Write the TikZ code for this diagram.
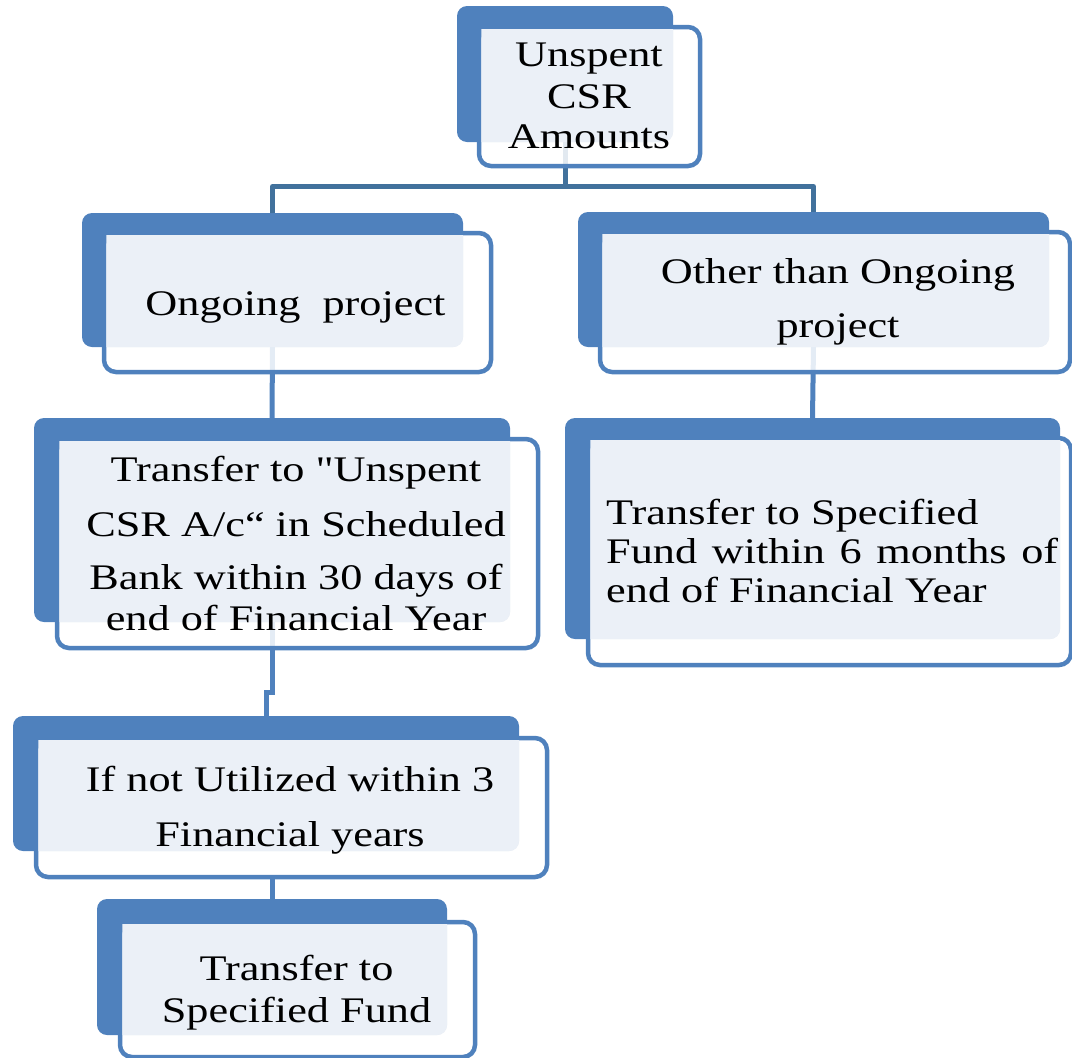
\documentclass[tikz,border=0pt]{standalone}
\usepackage{fontspec}
\setmainfont[FakeStretch=1.23, Ligatures=TeXOff]{Liberation Serif}
\usetikzlibrary{calc}
\definecolor{bblue}{HTML}{4F81BD}
\definecolor{cblue}{HTML}{41719C}
\definecolor{lfill}{HTML}{EBF0F7}
\newcommand\lightpart[2]{%
  \begin{scope}
    \clip ([xshift=2.25pt,yshift=-2.25pt]#1.north west) rectangle (#1.south east);
    \fill[lfill, rounded corners=10pt] (#2.north west) rectangle (#2.south east);
  \end{scope}}
\begin{document}
\begin{tikzpicture}[x=1pt,y=-1pt,
  back/.style={fill=bblue, rounded corners=10pt, inner sep=0pt, outer sep=0pt},
  front/.style={draw=bblue, line width=4.5pt, fill=white, fill opacity=0.85, rounded corners=12pt, inner sep=0pt, outer sep=0pt},
  conn/.style={draw=bblue, line width=5pt},
  tree/.style={draw=cblue, line width=5pt, line join=round},
  txt/.style={inner sep=0pt, anchor=base, font=\fontsize{36}{40}\selectfont},
  txtl/.style={txt, anchor=base west}]
\useasboundingbox (0,0) rectangle (1072,1058);

% back (blue) boxes
\node[back, minimum width=216pt, minimum height=136pt] (k1) at (565,74) {};
\node[back, minimum width=381pt, minimum height=134pt] (k2) at (272.5,280) {};
\node[back, minimum width=471pt, minimum height=135pt] (k3) at (813.5,279.5) {};
\node[back, minimum width=476pt, minimum height=204pt] (k4) at (272,520) {};
\node[back, minimum width=495pt, minimum height=221pt] (k5) at (812.5,528.5) {};
\node[back, minimum width=506pt, minimum height=135pt] (k6) at (266,783.5) {};
\node[back, minimum width=350pt, minimum height=136pt] (k7) at (272,967) {};

% junction levels
\coordinate (j0) at (0,186.5);
\coordinate (j1) at (0,692);

% connectors (behind front boxes)
\draw[tree] (k1.south) -- (k1.south |- j0);
\draw[tree] (k2.north) |- (k3.north |- j0) -- (k3.north);
\draw[conn] (k2.south) -- (k4.north);
\draw[conn] (k3.south) -- (k5.north);
\draw[conn] (k4.south) -- (k4.south |- j1) -- (k6.north |- j1) -- (k6.north);

% front boxes
\node[front, minimum width=221pt, minimum height=139pt] (f1) at (589.5,96.5) {};
\node[front, minimum width=387pt, minimum height=139pt] (f2) at (297.5,302.5) {};
\node[front, minimum width=470pt, minimum height=140pt] (f3) at (835,302) {};
\node[front, minimum width=481pt, minimum height=209pt] (f4) at (297.5,543.5) {};
\node[front, minimum width=483pt, minimum height=227pt] (f5) at (829.5,551.5) {};
\node[front, minimum width=511pt, minimum height=139pt] (f6) at (291.5,807.5) {};
\node[front, minimum width=355pt, minimum height=135pt] (f7) at (297.5,989.5) {};

% connector from box 6 to box 7 (below front box 6)
\draw[conn] (k7.north |- f6.south) -- (k7.north);

% light overlap areas
\lightpart{f1}{k1}
\lightpart{f2}{k2}
\lightpart{f3}{k3}
\lightpart{f4}{k4}
\lightpart{f5}{k5}
\lightpart{f6}{k6}
\lightpart{f7}{k7}

% texts
\node[txt] (t1a) at (589,66) {Unspent};
\node[txt] (t1b) at (589,108) {CSR};
\node[txt] (t1c) at (589,148) {Amounts};

\node[txt] (t2a) at (295.5,315) {Ongoing\ \ project};

\node[txt] (t3a) at (838,283) {Other than Ongoing};
\node[txt] (t3b) at (838,337) {project};

\node[txt] (t4a) at (296,481) {Transfer to "Unspent};
\node[txt] (t4b) at (296,536) {CSR A/c“ in Scheduled};
\node[txt] (t4c) at (296,589) {Bank within 30 days of};
\node[txt] (t4d) at (296,630) {end of Financial Year};

\node[txtl] (t5a) at (606,524) {Transfer to Specified};
\node[txtl] (t5b) at (606,563) {\makebox[452pt][s]{Fund within 6 months of}};
\node[txtl] (t5c) at (606,602) {end of Financial Year};

\node[txt] (t6a) at (290,791) {If not Utilized within 3};
\node[txt] (t6b) at (290,846) {Financial years};

\node[txt] (t7a) at (296.5,980) {Transfer to};
\node[txt] (t7b) at (296.5,1022) {Specified Fund};
\end{tikzpicture}
\end{document}
